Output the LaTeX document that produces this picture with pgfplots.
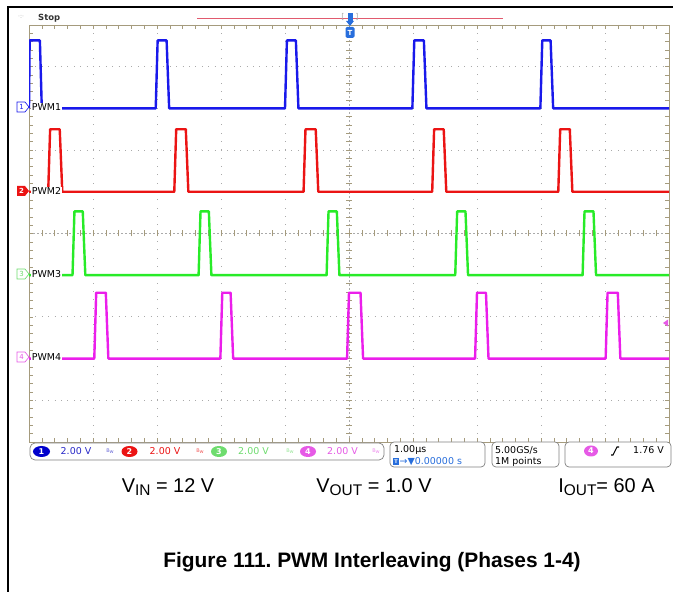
\documentclass[border=0pt]{standalone}
\usepackage{pgfplots}
\pgfplotsset{compat=1.18}
\usepackage{fontspec}
\setmainfont{Liberation Sans}
\newfontfamily\scf{DejaVu Sans}
\definecolor{sblue}{RGB}{25,25,235}
\definecolor{sred}{RGB}{235,20,20}
\definecolor{sgreen}{RGB}{40,235,40}
\definecolor{smag}{RGB}{235,30,235}
\definecolor{gframe}{RGB}{165,155,125}
\definecolor{gdot}{RGB}{170,170,170}
\definecolor{tblue}{RGB}{40,40,200}
\definecolor{tgreen}{RGB}{110,220,110}
\definecolor{tmag}{RGB}{230,90,230}
\definecolor{ttrig}{RGB}{40,110,220}
\definecolor{tline}{RGB}{225,90,110}
\begin{document}
\begin{tikzpicture}
\useasboundingbox (0,0) rectangle (673bp,592bp);
\begin{scope}[x=1bp,y=1bp]
% outer frame
\draw[black,line width=1.2bp] (8,0) -- (8,585) -- (673,585);
% graticule
\foreach \k in {1,2,3,4,6,7,8,9} {
  \draw[gdot,line width=0.8bp,dash pattern=on 0.8bp off 7.54bp] (29+64*\k,150) -- (29+64*\k,567);
}
\foreach \yy in {525.3,441.9,275.1,191.7} {
  \draw[gdot,line width=0.8bp,dash pattern=on 0.8bp off 5.6bp] (29,\yy) -- (669,\yy);
}
\draw[gdot,line width=0.6bp,dash pattern=on 2bp off 2bp] (29,358.5) -- (669,358.5);
\draw[gdot,line width=0.6bp,dash pattern=on 2bp off 2bp] (349,150) -- (349,567);
\foreach \i in {1,...,49} {
  \draw[gframe,line width=0.6bp] (29+12.8*\i,355.5) -- (29+12.8*\i,361.5);
  \draw[gframe,line width=0.6bp] (29+12.8*\i,150) -- (29+12.8*\i,154);
  \draw[gframe,line width=0.6bp] (29+12.8*\i,567) -- (29+12.8*\i,563);
}
\foreach \i in {1,...,49} {
  \draw[gframe,line width=0.6bp] (346,150+8.34*\i) -- (352,150+8.34*\i);
  \draw[gframe,line width=0.6bp] (29,150+8.34*\i) -- (33,150+8.34*\i);
  \draw[gframe,line width=0.6bp] (669,150+8.34*\i) -- (665,150+8.34*\i);
}
\draw[gframe,line width=0.9bp] (29,150) rectangle (669,567);
\end{scope}
\begin{axis}[at={(29bp,150bp)}, anchor=south west, width=640bp, height=417bp,
  scale only axis, xmin=-5, xmax=5, ymin=-5, ymax=5, axis lines=none, clip=true,
  every axis plot/.append style={line width=2.4bp, line join=round}]
\addplot[sblue] coordinates {(-5,3)(-4.99,4.63)(-4.83,4.63)(-4.80,3)
 (-3.02,3)(-2.99,4.63)(-2.85,4.63)(-2.81,3)
 (-1.00,3)(-0.97,4.63)(-0.83,4.63)(-0.79,3)
 (0.99,3)(1.02,4.63)(1.17,4.63)(1.21,3)
 (2.99,3)(3.02,4.63)(3.15,4.63)(3.19,3)(5,3)};
\addplot[sred] coordinates {(-5,1)(-4.70,1)(-4.67,2.5)(-4.52,2.5)(-4.48,1)
 (-2.73,1)(-2.70,2.5)(-2.55,2.5)(-2.51,1)
 (-0.71,1)(-0.68,2.5)(-0.52,2.5)(-0.48,1)
 (1.30,1)(1.33,2.5)(1.48,2.5)(1.52,1)
 (3.27,1)(3.30,2.5)(3.45,2.5)(3.49,1)(5,1)};
\addplot[sgreen] coordinates {(-5,-1)(-4.32,-1)(-4.29,0.53)(-4.16,0.53)(-4.12,-1)
 (-2.35,-1)(-2.32,0.53)(-2.19,0.53)(-2.15,-1)
 (-0.35,-1)(-0.32,0.53)(-0.19,0.53)(-0.15,-1)
 (1.66,-1)(1.69,0.53)(1.82,0.53)(1.86,-1)
 (3.65,-1)(3.68,0.53)(3.82,0.53)(3.86,-1)(5,-1)};
\addplot[smag] coordinates {(-5,-3)(-3.98,-3)(-3.95,-1.42)(-3.80,-1.42)(-3.76,-3)
 (-2.01,-3)(-1.98,-1.42)(-1.85,-1.42)(-1.81,-3)
 (-0.03,-3)(0.00,-1.42)(0.18,-1.42)(0.22,-3)
 (1.97,-3)(2.00,-1.42)(2.14,-1.42)(2.18,-3)
 (4.01,-3)(4.04,-1.42)(4.20,-1.42)(4.24,-3)(5,-3)};
\end{axis}
\begin{scope}[x=1bp,y=1bp,font=\scf\fontsize{9.5}{10}\selectfont]
% top bar
\node[anchor=west,inner sep=0,font=\scf\bfseries\fontsize{8.5}{9}\selectfont,text=black!80] at (38,574) {Stop};
\node[anchor=west,inner sep=0,font=\scf\fontsize{6}{6}\selectfont,text=gdot] at (18,575) {·:·};
\draw[tline,line width=0.8bp] (197,574) -- (503,574);
\node[inner sep=0,font=\scf\fontsize{8}{8}\selectfont,text=gdot] at (343,575) {[};
\node[inner sep=0,font=\scf\fontsize{8}{8}\selectfont,text=gdot] at (357,575) {]};
\fill[ttrig] (347.5,571) rectangle (352.5,579);
\fill[ttrig] (346,571) -- (354,571) -- (350,566) -- cycle;
\fill[ttrig,rounded corners=1.5bp] (345.5,554) rectangle (354.5,565);
\node[inner sep=0,text=white,font=\scf\bfseries\fontsize{7}{7}\selectfont] at (350,559.5) {T};
% channel markers
\draw[sblue,fill=white,line width=0.7bp] (17,480) -- (25,480) -- (29,485) -- (25,490) -- (17,490) -- cycle;
\node[inner sep=0,text=sblue,font=\scf\fontsize{7}{7}\selectfont] at (21.5,485) {1};
\node[anchor=west,inner sep=0.6bp,fill=white,text=black] at (31,485) {PWM1};
\fill[sred] (17,396) -- (25,396) -- (29,401) -- (25,406) -- (17,406) -- cycle;
\node[inner sep=0,text=white,font=\scf\bfseries\fontsize{7}{7}\selectfont] at (21.5,401) {2};
\node[anchor=west,inner sep=0.6bp,fill=white,text=black] at (31,401) {PWM2};
\draw[tgreen,fill=white,line width=0.7bp] (17,313) -- (25,313) -- (29,318) -- (25,323) -- (17,323) -- cycle;
\node[inner sep=0,text=tgreen,font=\scf\fontsize{7}{7}\selectfont] at (21.5,318) {3};
\node[anchor=west,inner sep=0.6bp,fill=white,text=black] at (31,318) {PWM3};
\draw[tmag,fill=white,line width=0.7bp] (17,230) -- (25,230) -- (29,235) -- (25,240) -- (17,240) -- cycle;
\node[inner sep=0,text=tmag,font=\scf\fontsize{7}{7}\selectfont] at (21.5,235) {4};
\node[anchor=west,inner sep=0.6bp,fill=white,text=black] at (31,235) {PWM4};
% trigger level marker
\fill[tmag] (663,269) -- (668,272.5) -- (668,265.5) -- cycle;
% bottom status boxes
\draw[gray,fill=white,line width=0.7bp,rounded corners=5bp] (30,132) rectangle (384,149);
\draw[gray,fill=white,line width=0.7bp,rounded corners=4bp] (390,125) rectangle (485,150);
\draw[gray,fill=white,line width=0.7bp,rounded corners=4bp] (492,125) rectangle (559,150);
\draw[gray,fill=white,line width=0.7bp,rounded corners=4bp] (565,125) rectangle (671,150);
\fill[blue!80!black] (41.5,140.5) ellipse (8.5bp and 5.5bp);
\node[text=white,font=\scf\bfseries\fontsize{8}{8}\selectfont,inner sep=0] at (41.5,140.5) {1};
\node[text=tblue,inner sep=0] at (76,140.5) {2.00 V};
\fill[sred] (129.5,140.5) ellipse (8bp and 5.5bp);
\node[text=white,font=\scf\bfseries\fontsize{8}{8}\selectfont,inner sep=0] at (129.5,140.5) {2};
\node[text=sred,inner sep=0] at (165,140.5) {2.00 V};
\fill[tgreen] (219,140.5) ellipse (8bp and 5.5bp);
\node[text=white,font=\scf\bfseries\fontsize{8}{8}\selectfont,inner sep=0] at (219,140.5) {3};
\node[text=tgreen,inner sep=0] at (253.5,140.5) {2.00 V};
\fill[tmag] (308,140.5) ellipse (8bp and 5.5bp);
\node[text=white,font=\scf\bfseries\fontsize{8}{8}\selectfont,inner sep=0] at (308,140.5) {4};
\node[text=tmag,inner sep=0] at (342.5,140.5) {2.00 V};
\foreach \bx/\bc in {110/tblue,200/sred,290/tgreen,376/tmag} {
  \node[text=\bc!70,inner sep=0,font=\scf\fontsize{5}{5}\selectfont] at (\bx,141) {B\raisebox{-1.5bp}{w}};
}
\node[anchor=west,inner sep=0,text=black] at (394,142) {1.00µs};
\fill[ttrig] (393,127) rectangle (399,134);
\node[inner sep=0,text=white,font=\scf\bfseries\fontsize{5}{5}\selectfont] at (396,130.5) {T};
\node[anchor=west,inner sep=0,text=ttrig] at (399.5,130.5) {→▼0.00000 s};
\node[anchor=west,inner sep=0,text=black] at (495,142) {5.00GS/s};
\node[anchor=west,inner sep=0,text=black] at (495,130.5) {1M points};
\fill[tmag] (591,141) ellipse (7bp and 5.5bp);
\node[text=white,font=\scf\bfseries\fontsize{8}{8}\selectfont,inner sep=0] at (591,141) {4};
\draw[black,line width=1.1bp] (611,137) -- (613,137) -- (617,145) -- (619,145);
\node[anchor=east,inner sep=0,text=black] at (664,141.5) {1.76 V};
% captions
\node[anchor=base,inner sep=0,font=\fontsize{20}{22}\selectfont] at (168,100) {V\raisebox{-3.5bp}{\fontsize{15.5}{16}\selectfont IN} = 12 V};
\node[anchor=base,inner sep=0,font=\fontsize{20}{22}\selectfont] at (374,100) {V\raisebox{-3.5bp}{\fontsize{15.5}{16}\selectfont OUT} = 1.0 V};
\node[anchor=base,inner sep=0,font=\fontsize{20}{22}\selectfont] at (606.5,100) {I\raisebox{-3.5bp}{\fontsize{15.5}{16}\selectfont OUT}= 60 A};
\node[anchor=base,inner sep=0,font=\bfseries\fontsize{21}{23}\selectfont] at (372,25) {Figure 111.\ PWM Interleaving (Phases 1-4)};
\end{scope}
\end{tikzpicture}
\end{document}
